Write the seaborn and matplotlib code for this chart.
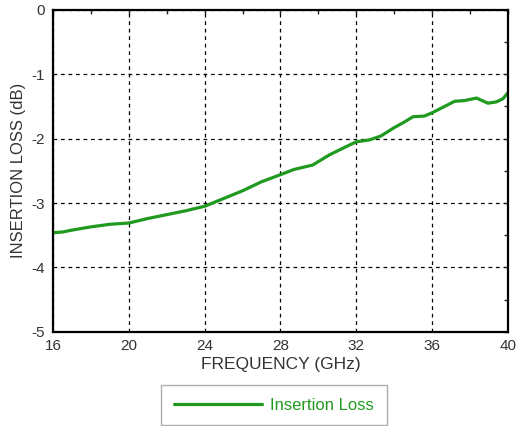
"""Insertion loss vs frequency"""

import matplotlib
matplotlib.use("Agg")
import matplotlib.pyplot as plt
import seaborn as sb
import pandas as pd

freq_ghz = [16, 16.5, 17, 18, 19, 20, 21, 22, 23, 24, 25, 26, 27, 28, 28.7, 29.7,
            30.6, 31.5, 32, 32.7, 33.3, 34, 34.5, 35, 35.6, 36, 36.6, 37.2, 37.7,
            38.35, 38.95, 39.4, 39.75, 40]
loss_db = [-3.46, -3.45, -3.42, -3.37, -3.33, -3.31, -3.24, -3.18, -3.12, -3.05,
           -2.93, -2.81, -2.67, -2.56, -2.48, -2.41, -2.25, -2.12, -2.05, -2.02,
           -1.96, -1.83, -1.75, -1.66, -1.65, -1.60, -1.51, -1.42, -1.41,
           -1.37, -1.45, -1.43, -1.38, -1.29]

x_ticks = [16, 20, 24, 28, 32, 36, 40]
y_ticks = [0, -1, -2, -3, -4, -5]

df = pd.DataFrame({"freq": freq_ghz, "loss": loss_db})

sb.set_style("white")
plt.rcParams["font.family"] = ["Liberation Sans", "DejaVu Sans"]
plt.rcParams["axes.unicode_minus"] = False

green = "#1f9a1f"
text_col = "#333333"

fig = plt.figure(figsize=(5.16, 4.26), dpi=100)
ax = fig.add_axes([0.103, 0.221, 0.881, 0.756])

sb.lineplot(data=df, x="freq", y="loss", color=green, linewidth=2.3, ax=ax,
            label="Insertion Loss")

ax.set_xlim(16, 40)
ax.set_ylim(-5, 0)
ax.set_xticks(x_ticks)
ax.set_yticks(y_ticks)
ax.set_xticks(range(16, 41, 2), minor=True)
ax.set_yticks([v / 2 for v in range(-10, 1)], minor=True)
ax.tick_params(which="both", direction="in", top=True, right=True, length=3, width=1,
               labelsize=11, labelcolor=text_col)
ax.tick_params(axis="x", pad=5)
ax.tick_params(axis="y", pad=6)
ax.grid(True, which="major", color="black", linestyle=(0, (3, 3)), linewidth=0.9)

for s in ax.spines.values():
    s.set_color("black")
    s.set_linewidth(1.6)

ax.set_xlabel("FREQUENCY (GHz)", fontsize=12.5, color=text_col, labelpad=3)
ax.set_ylabel("INSERTION LOSS (dB)", fontsize=12, color=text_col, labelpad=4)

handles, labels = ax.get_legend_handles_labels()
ax.get_legend().remove()
leg = fig.legend(handles, labels, loc="lower center", bbox_to_anchor=(0.531, 0.002),
                 frameon=True, fancybox=False, fontsize=12, handlelength=5.3,
                 handletextpad=0.5, borderpad=0.75, borderaxespad=0)
leg.get_frame().set_edgecolor("#999999")
for t in leg.get_texts():
    t.set_color(green)

plt.savefig("out.png", dpi=100)
plt.close()
